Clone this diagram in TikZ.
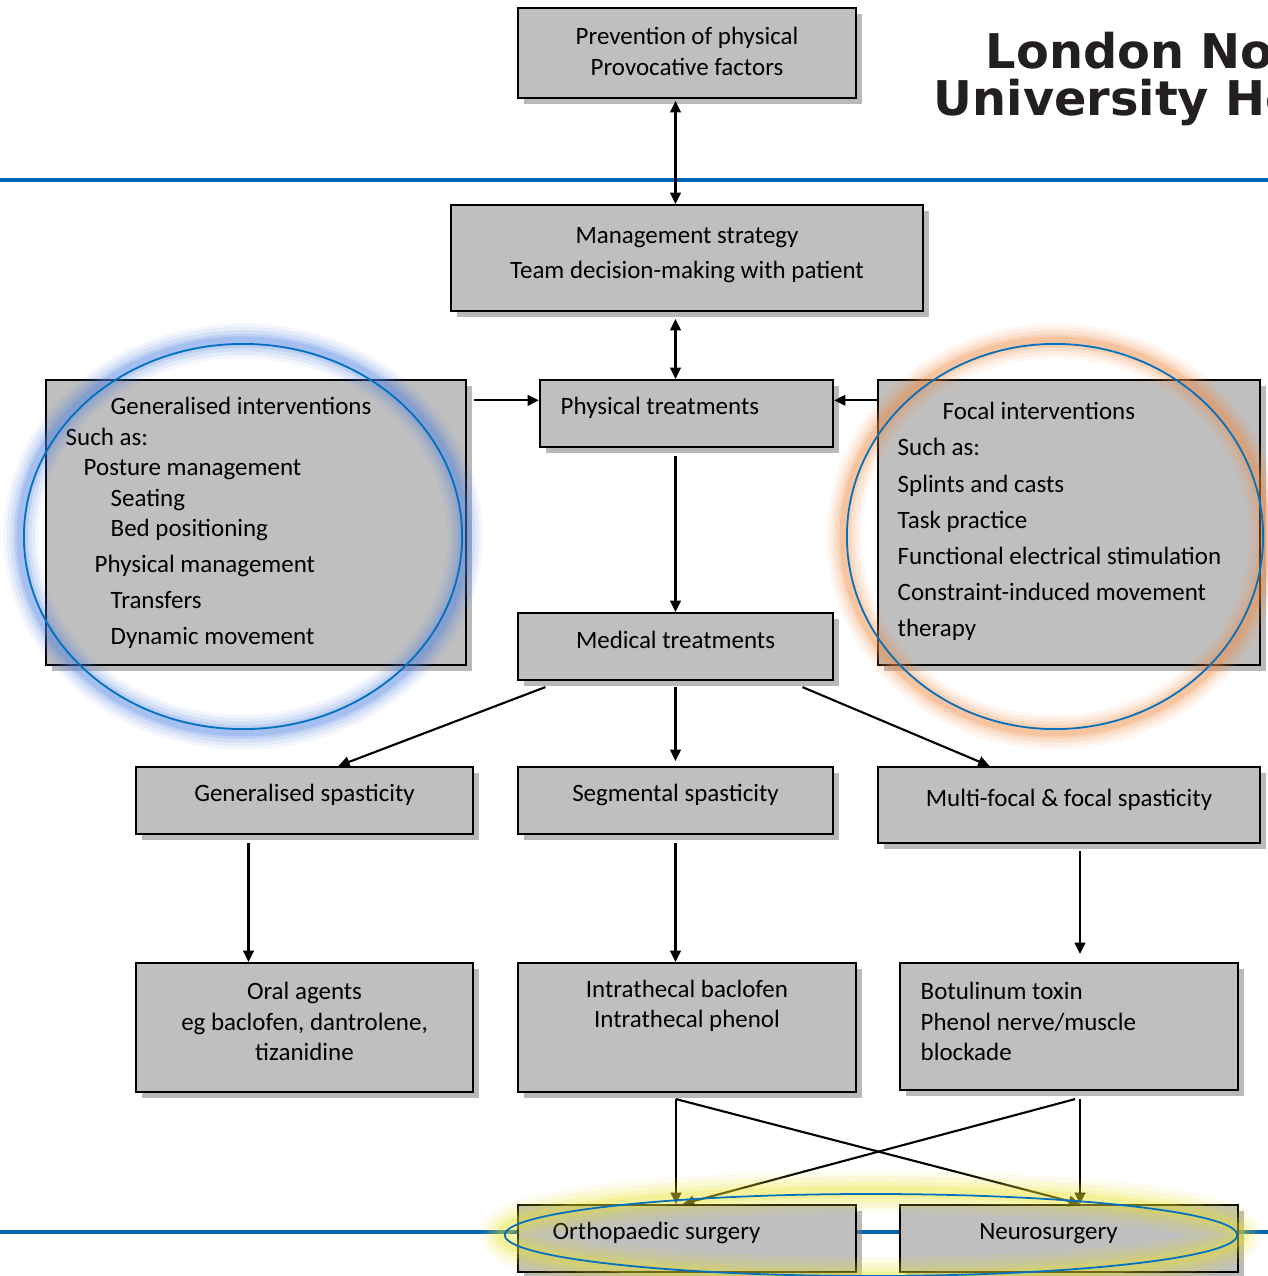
\documentclass[tikz,border=0pt]{standalone}
\usepackage{fontspec}
\setmainfont{Carlito}
\newfontfamily\logofont{DejaVu Sans}
\usetikzlibrary{arrows.meta,shadows,calc,positioning}

\definecolor{boxgray}{RGB}{191,191,191}
\definecolor{ruleblue}{RGB}{0,102,179}
\definecolor{ringblue}{RGB}{0,112,192}
\definecolor{glowblue}{RGB}{80,130,225}
\definecolor{gloworange}{RGB}{240,140,70}
\definecolor{glowyellow}{RGB}{235,225,40}
\definecolor{logoblack}{RGB}{35,31,32}

\tikzset{
    box/.style={draw=black, line width=0.6pt, fill=boxgray, inner sep=0pt,
        drop shadow={shadow xshift=0.06cm, shadow yshift=-0.06cm, opacity=0.55}},
    txt/.style={inner sep=0pt, yshift=-0.02cm, font=\fontsize{7.1pt}{8.7pt}\selectfont, align=center},
    row/.style={txt, anchor=west, text height=4.9pt, text depth=1.4pt},
    logo/.style={inner sep=0pt, anchor=base west, text=logoblack,
        font=\logofont\bfseries\fontsize{13.6pt}{15pt}\selectfont},
    arr/.style={line width=0.6pt, -{Triangle[length=3.2pt,width=3pt]}},
    biarr/.style={line width=0.6pt, {Triangle[length=3.2pt,width=3pt]}-{Triangle[length=3.2pt,width=3pt]}},
    rule/.style={ruleblue, line width=1pt},
    ring/.style={ringblue, line width=0.5pt},
}

\begin{document}
\begin{tikzpicture}[x=0.01cm, y=-0.01cm]
    \useasboundingbox (0,0) rectangle (1268,1276);

    % blue rules of the slide
    \draw[rule] (0,180) -- (1268,180);
    \draw[rule] (0,1232) -- (1268,1232);

    % logo, cut at the slide edge
    \begin{scope}
        \clip (0,0) rectangle (1268,1276);
        \node[logo] (logo-1) at (985,69) {London No};
        \node[logo] (logo-2) at (933,116) {University He};
    \end{scope}

    % boxes
    \node[box, minimum width=3.38cm, minimum height=0.90cm] (prev) at (687,53) {};
    \node[box, minimum width=4.72cm, minimum height=1.06cm] (mgmt) at (687,258) {};
    \node[box, minimum width=2.93cm, minimum height=0.67cm] (phys) at (686.5,413.5) {};
    \node[box, minimum width=4.20cm, minimum height=2.85cm] (gen) at (256,522.5) {};
    \node[box, minimum width=3.82cm, minimum height=2.85cm] (focal) at (1069,522.5) {};
    \node[box, minimum width=3.15cm, minimum height=0.67cm] (med) at (675.5,646.5) {};
    \node[box, minimum width=3.37cm, minimum height=0.67cm] (gsp) at (304.5,800.5) {};
    \node[box, minimum width=3.15cm, minimum height=0.67cm] (ssp) at (675.5,800.5) {};
    \node[box, minimum width=3.82cm, minimum height=0.76cm] (msp) at (1069,805) {};
    \node[box, minimum width=3.37cm, minimum height=1.29cm] (oral) at (304.5,1027.5) {};
    \node[box, minimum width=3.38cm, minimum height=1.29cm] (intra) at (687,1027.5) {};
    \node[box, minimum width=3.38cm, minimum height=1.27cm] (botox) at (1069,1026.5) {};
    \node[box, minimum width=3.38cm, minimum height=0.67cm] (ortho) at (687,1238.5) {};
    \node[box, minimum width=3.38cm, minimum height=0.67cm] (neuro) at (1069,1238.5) {};

    % texts
    \node[txt] (prev-t) at (687,49.5) {Prevention of physical\\Provocative factors};
    \node[txt] (mgmt-t) at (687,253.5) {Management strategy\\[1.2pt]Team decision-making with patient};
    \node[row] (phys-t) at (560,406) {Physical treatments};
    \node[row, anchor=center] (med-t) at (675.5,640) {Medical treatments};
    \node[row, anchor=center] (gsp-t) at (304.5,793) {Generalised spasticity};
    \node[row, anchor=center] (ssp-t) at (675.5,793) {Segmental spasticity};
    \node[row, anchor=center] (msp-t) at (1069,798) {Multi-focal \& focal spasticity};
    \node[txt] (oral-t) at (304.5,1019.5) {Oral agents\\eg baclofen, dantrolene,\\tizanidine};
    \node[txt] (intra-t) at (687,1004) {Intrathecal baclofen\\Intrathecal phenol};
    \node[txt, anchor=west, align=left] (botox-t) at (920,1019.5) {Botulinum toxin\\Phenol nerve/muscle\\blockade};
    \node[row] (ortho-t) at (552,1231) {Orthopaedic surgery};
    \node[row, anchor=center] (neuro-t) at (1048.5,1231) {Neurosurgery};

    \foreach \tx/\ty/\tt [count=\i] in {110/406/Generalised interventions, 65/437/Such as:,
        83/467/Posture management, 110/498/Seating, 110/528/Bed positioning,
        94/564/Physical management, 110/600/Transfers, 110/636/Dynamic movement}
        \node[row] (gen-\i) at (\tx,\ty) {\tt};

    \foreach \tx/\ty/\tt [count=\i] in {942/411/Focal interventions, 897/447/Such as:,
        897/484/Splints and casts, 897/520/Task practice,
        897/556/Functional electrical stimulation, 897/592/Constraint-induced movement,
        897/628/therapy}
        \node[row] (focal-\i) at (\tx,\ty) {\tt};

    % connectors
    \coordinate (phys-in) at ($(phys.north west)!0.31!(phys.south west)$);
    \draw[biarr] ($(prev.south -| med.north)+(0,2)$) -- (mgmt.north -| med.north);
    \draw[biarr] ($(mgmt.south -| med.north)+(0,7)$) -- (phys.north -| med.north);
    \draw[arr] ($(gen.east |- phys-in)+(7,0)$) -- (phys-in);
    \draw[arr] (focal.west |- phys-in) -- (phys.east |- phys-in);
    \draw[arr] ($(phys.south -| med.north)+(0,8)$) -- (med.north);
    \draw[arr] ($(med.south west)!0.09!(med.south east)+(0,6)$) -- ($(gsp.north west)!0.6!(gsp.north east)$);
    \draw[arr] ($(med.south)+(0,6)$) -- ($(ssp.north)+(0,-5)$);
    \draw[arr] ($(med.south west)!0.9!(med.south east)+(0,6)$) -- ($(msp.north west)!0.293!(msp.north east)$);
    \draw[arr] ($(gsp.south)+(-56,8)$) -- ($(oral.north)+(-56,0)$);
    \draw[arr] ($(ssp.south)+(0,8)$) -- (intra.north -| ssp.south);
    \draw[arr] ($(msp.south)+(11,7)$) -- ($(botox.north)+(11,-8)$);
    \draw[arr] ($(intra.south)+(-11,6)$) -- ($(ortho.north)+(-11,0)$);
    \draw[arr] ($(intra.south)+(-11,6)$) -- ($(neuro.north)+(11,0)$);
    \draw[arr] ($(botox.south)+(6,8)$) -- ($(ortho.north)+(-4,0)$);
    \draw[arr] ($(botox.south)+(11,8)$) -- ($(neuro.north)+(11,0)$);

    % glowing rings
    \foreach \w/\o in {10/0.07, 8/0.09, 6/0.12, 4/0.16, 2.5/0.22} {
        \draw[glowblue, line width=\w pt, opacity=\o] (243,536.5) ellipse [x radius=2.22cm, y radius=1.955cm];
        \draw[gloworange, line width=\w pt, opacity=\o] (1055,536.5) ellipse [x radius=2.11cm, y radius=1.955cm];
    }
    \foreach \w/\o in {12/0.09, 9/0.12, 6/0.16, 3.5/0.22} {
        \draw[glowyellow, line width=\w pt, opacity=\o] (871,1235) ellipse [x radius=3.68cm, y radius=0.43cm];
    }
    \draw[ring] (243,536.5) ellipse [x radius=2.19cm, y radius=1.925cm];
    \draw[ring] (1055,536.5) ellipse [x radius=2.08cm, y radius=1.925cm];
    \draw[ring] (871,1235) ellipse [x radius=3.66cm, y radius=0.41cm];
\end{tikzpicture}
\end{document}
